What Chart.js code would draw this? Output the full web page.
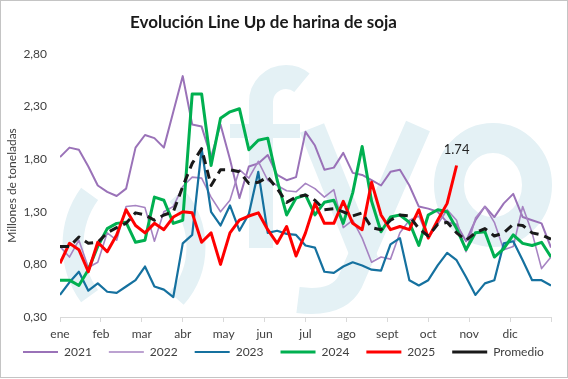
<!DOCTYPE html>
<html>
<head>
<meta charset="utf-8">
<script src="https://cdn.jsdelivr.net/npm/chart.js@4"></script>
<style>
html,body{margin:0;padding:0;background:#fff;}
#wrap{width:568px;height:379px;position:relative;}
</style>
</head>
<body>
<div id="wrap"><canvas id="c" width="568" height="379"></canvas></div>
<script>
// ---- data ----
const semanas = [1,2,3,4,5,6,7,8,9,10,11,12,13,14,15,16,17,18,19,20,21,22,23,24,25,26,27,28,29,30,31,32,33,34,35,36,37,38,39,40,41,42,43,44,45,46,47,48,49,50,51,52,53];
const meses = ['ene','feb','mar','abr','may','jun','jul','ago','sept','oct','nov','dic'];
const posMeses = [1, 5.333, 9.667, 14, 18.333, 22.667, 27, 31.333, 35.667, 40, 44.333, 48.667, 53];
const yTicks = [0.3, 0.8, 1.3, 1.8, 2.3, 2.8];

const s2021 = [1.82,1.91,1.89,1.73,1.55,1.49,1.45,1.52,1.91,2.03,2.00,1.91,2.25,2.59,2.13,2.11,1.82,2.13,1.80,1.43,1.73,1.76,1.84,1.65,1.60,1.63,2.06,1.93,1.70,1.72,1.86,1.67,1.65,1.60,1.55,1.68,1.70,1.55,1.35,1.33,1.30,1.20,1.18,1.02,1.22,1.35,1.25,1.38,1.47,1.25,1.22,1.19,0.96];
const s2022 = [0.97,0.87,1.03,0.77,0.82,1.10,1.03,1.35,1.36,1.34,1.02,1.30,1.35,1.54,1.63,1.62,1.44,1.30,1.41,1.70,1.62,1.78,1.60,1.55,1.50,1.49,1.57,1.52,1.44,1.51,1.15,1.22,1.05,0.82,0.87,0.85,1.10,1.22,1.26,1.05,1.18,1.32,1.22,0.92,1.24,1.35,1.20,0.94,0.97,1.35,1.10,0.76,0.87];
const s2023 = [0.51,0.63,0.73,0.55,0.62,0.54,0.53,0.59,0.65,0.78,0.59,0.56,0.49,1.00,1.08,1.90,1.30,1.17,1.36,1.12,1.28,1.68,1.10,1.12,1.09,1.08,0.98,0.96,0.73,0.72,0.78,0.82,0.79,0.75,0.74,0.99,1.05,0.65,0.60,0.65,0.79,0.91,0.84,0.68,0.51,0.62,0.65,1.00,1.02,0.84,0.65,0.65,0.60];
const s2024 = [0.65,0.65,0.60,0.75,0.97,1.14,1.19,1.20,1.01,1.03,1.44,1.41,1.19,1.22,2.42,2.42,1.74,2.19,2.25,2.28,1.89,1.98,2.00,1.60,1.27,1.43,1.46,1.27,1.39,1.41,1.19,1.48,1.92,1.40,1.11,1.25,1.27,1.20,0.98,1.27,1.32,1.30,1.14,0.94,1.10,1.11,0.87,0.95,1.08,1.00,0.98,1.01,0.87];
const s2025 = [0.81,1.00,0.94,0.73,1.01,0.92,1.08,1.32,1.17,1.10,1.19,1.13,1.25,1.30,1.29,1.01,1.10,0.80,1.10,1.22,1.26,1.29,1.13,1.00,1.16,0.88,1.10,1.38,1.19,1.19,1.40,1.19,1.13,1.58,1.27,1.13,1.16,1.13,1.32,1.05,1.22,1.38,1.74];
const promedio = [0.97,0.97,1.06,1.00,1.01,1.10,1.15,1.19,1.29,1.27,1.22,1.27,1.30,1.54,1.76,1.90,1.55,1.70,1.70,1.68,1.57,1.58,1.63,1.52,1.39,1.44,1.46,1.41,1.32,1.33,1.30,1.26,1.29,1.15,1.13,1.22,1.27,1.26,1.14,1.07,1.18,1.20,1.10,1.03,1.10,1.14,1.07,1.10,1.18,1.17,1.10,1.08,1.04];

const FONT = 'Lato, "Open Sans", "DejaVu Sans", sans-serif';
const pts = arr => arr.map((v, i) => ({x: semanas[i], y: v}));

// ---- decorative watermark (background logo) ----
const marca = {
  id: 'marca',
  beforeDatasetsDraw(chart) {
    const c = chart.ctx;
    c.save();
    c.fillStyle = '#e4f1f5';
    c.strokeStyle = '#e4f1f5';
    c.lineCap = 'butt';
    c.lineWidth = 21;
    c.beginPath(); c.arc(160, 245, 87, 0.80 * Math.PI, 1.20 * Math.PI); c.stroke();
    c.lineWidth = 19;
    c.beginPath(); c.arc(118, 247, 78, -0.23 * Math.PI, 0.23 * Math.PI); c.stroke();
    c.lineWidth = 24;
    c.fillRect(249, 100, 24, 148);
    c.beginPath(); c.arc(286, 102, 25, Math.PI, 1.72 * Math.PI); c.stroke();
    c.fillRect(230, 124, 70, 14);
    c.lineWidth = 26;
    c.beginPath(); c.moveTo(312, 128); c.lineTo(366, 262); c.stroke();
    c.beginPath(); c.moveTo(418, 126); c.lineTo(350, 282); c.quadraticCurveTo(338, 305, 298, 300); c.stroke();
    c.lineWidth = 30;
    c.beginPath(); c.ellipse(493, 185, 44, 47, 0, 0, 2 * Math.PI); c.stroke();
    c.restore();
  }
};

// ---- value label on last 2025 point + frame ----
const etiqueta = {
  id: 'etiqueta',
  afterDatasetsDraw(chart) {
    const meta = chart.getDatasetMeta(4);
    const last = meta.data[meta.data.length - 1];
    const v = s2025[s2025.length - 1];
    const c = chart.ctx;
    c.save();
    c.font = '13px ' + FONT;
    c.fillStyle = '#262626';
    c.textAlign = 'center';
    c.textBaseline = 'middle';
    c.fillText(v.toFixed(2), last.x, last.y - 16);
    c.restore();
  },
  afterDraw(chart) {
    const c = chart.ctx;
    c.save();
    c.strokeStyle = '#c4c4c4';
    c.lineWidth = 1;
    c.strokeRect(0.5, 0.5, 567, 377);
    c.restore();
  }
};

// ---- legend / title placement ----
const LEG_PAD = 17;
const ajusteLayout = {
  id: 'ajusteLayout',
  beforeLayout(chart) {
    const lg = chart.legend;
    if (lg && !lg._fitPatched) {
      const orig = lg.fit;
      lg.fit = function () {
        const mw = this.maxWidth;
        this.maxWidth = 2000;
        orig.call(this);
        this.maxWidth = mw;
        this.width = mw;
        this.height = 26;
      };
      lg._fitPatched = true;
    }
  },
  afterLayout(chart) {
    const lg = chart.legend;
    if (lg) {
      lg.left = 23 - LEG_PAD;
      lg.right = 2000;
      lg.top = 352 - 6 - LEG_PAD;
      lg.bottom = 379;
    }
    const t = chart.titleBlock;
    if (t) { t.left -= 12; t.right -= 12; }
  }
};

new Chart(document.getElementById('c'), {
  type: 'line',
  data: {
    datasets: [
      {label: '2021', data: pts(s2021), borderColor: '#9a72b8', backgroundColor: '#9a72b8', borderWidth: 2, order: 5},
      {label: '2022', data: pts(s2022), borderColor: '#a683c2', backgroundColor: '#a683c2', borderWidth: 1.6, order: 4},
      {label: '2023', data: pts(s2023), borderColor: '#15719f', backgroundColor: '#15719f', borderWidth: 2.2, order: 3},
      {label: '2024', data: pts(s2024), borderColor: '#00b050', backgroundColor: '#00b050', borderWidth: 3, order: 2},
      {label: '2025', data: pts(s2025), borderColor: '#ff0000', backgroundColor: '#ff0000', borderWidth: 3, order: 1},
      {label: 'Promedio', data: pts(promedio), borderColor: '#1a1a1a', backgroundColor: '#1a1a1a', borderWidth: 3, borderDash: [9, 6], order: 0}
    ]
  },
  options: {
    responsive: false,
    animation: false,
    devicePixelRatio: 1,
    elements: {point: {radius: 0, hoverRadius: 0}, line: {tension: 0, borderJoinStyle: 'round'}},
    layout: {padding: {left: 0, right: 17, top: 0, bottom: 11}},
    plugins: {
      tooltip: {enabled: false},
      title: {
        display: true,
        text: 'Evolución Line Up de harina de soja',
        color: '#1a1a1a',
        font: {family: FONT, size: 17, weight: 'bold'},
        padding: {top: 12, bottom: 21.6}
      },
      legend: {
        position: 'bottom',
        align: 'start',
        labels: {
          usePointStyle: true,
          pointStyle: 'line',
          pointStyleWidth: 35,
          boxHeight: 12,
          padding: LEG_PAD,
          color: '#404040',
          font: {family: FONT, size: 12},
          sort: (a, b) => a.datasetIndex - b.datasetIndex
        }
      }
    },
    scales: {
      x: {
        type: 'linear',
        min: 1,
        max: 53,
        afterBuildTicks: s => { s.ticks = posMeses.map(v => ({value: v})); },
        afterFit: s => { s.height = 25; },
        ticks: {
          autoSkip: false,
          maxRotation: 0,
          padding: 5,
          color: '#404040',
          font: {family: FONT, size: 12},
          callback: (v, i) => (i < meses.length ? meses[i] : '')
        },
        grid: {drawOnChartArea: false, drawTicks: true, tickLength: 5, color: '#d9d9d9'},
        border: {display: true, color: '#d9d9d9'}
      },
      y: {
        min: 0.3,
        max: 2.8,
        afterBuildTicks: s => { s.ticks = yTicks.map(v => ({value: v})); },
        afterFit: s => { s.width = 60; },
        ticks: {
          padding: 13,
          color: '#404040',
          font: {family: FONT, size: 12},
          callback: v => v.toFixed(2).replace('.', ',')
        },
        grid: {display: false, drawTicks: false},
        border: {display: false},
        title: {
          display: true,
          text: 'Millones de toneladas',
          color: '#404040',
          font: {family: FONT, size: 12},
          padding: {top: 5, bottom: 4}
        }
      }
    }
  },
  plugins: [marca, etiqueta, ajusteLayout]
});
</script>
</body>
</html>
